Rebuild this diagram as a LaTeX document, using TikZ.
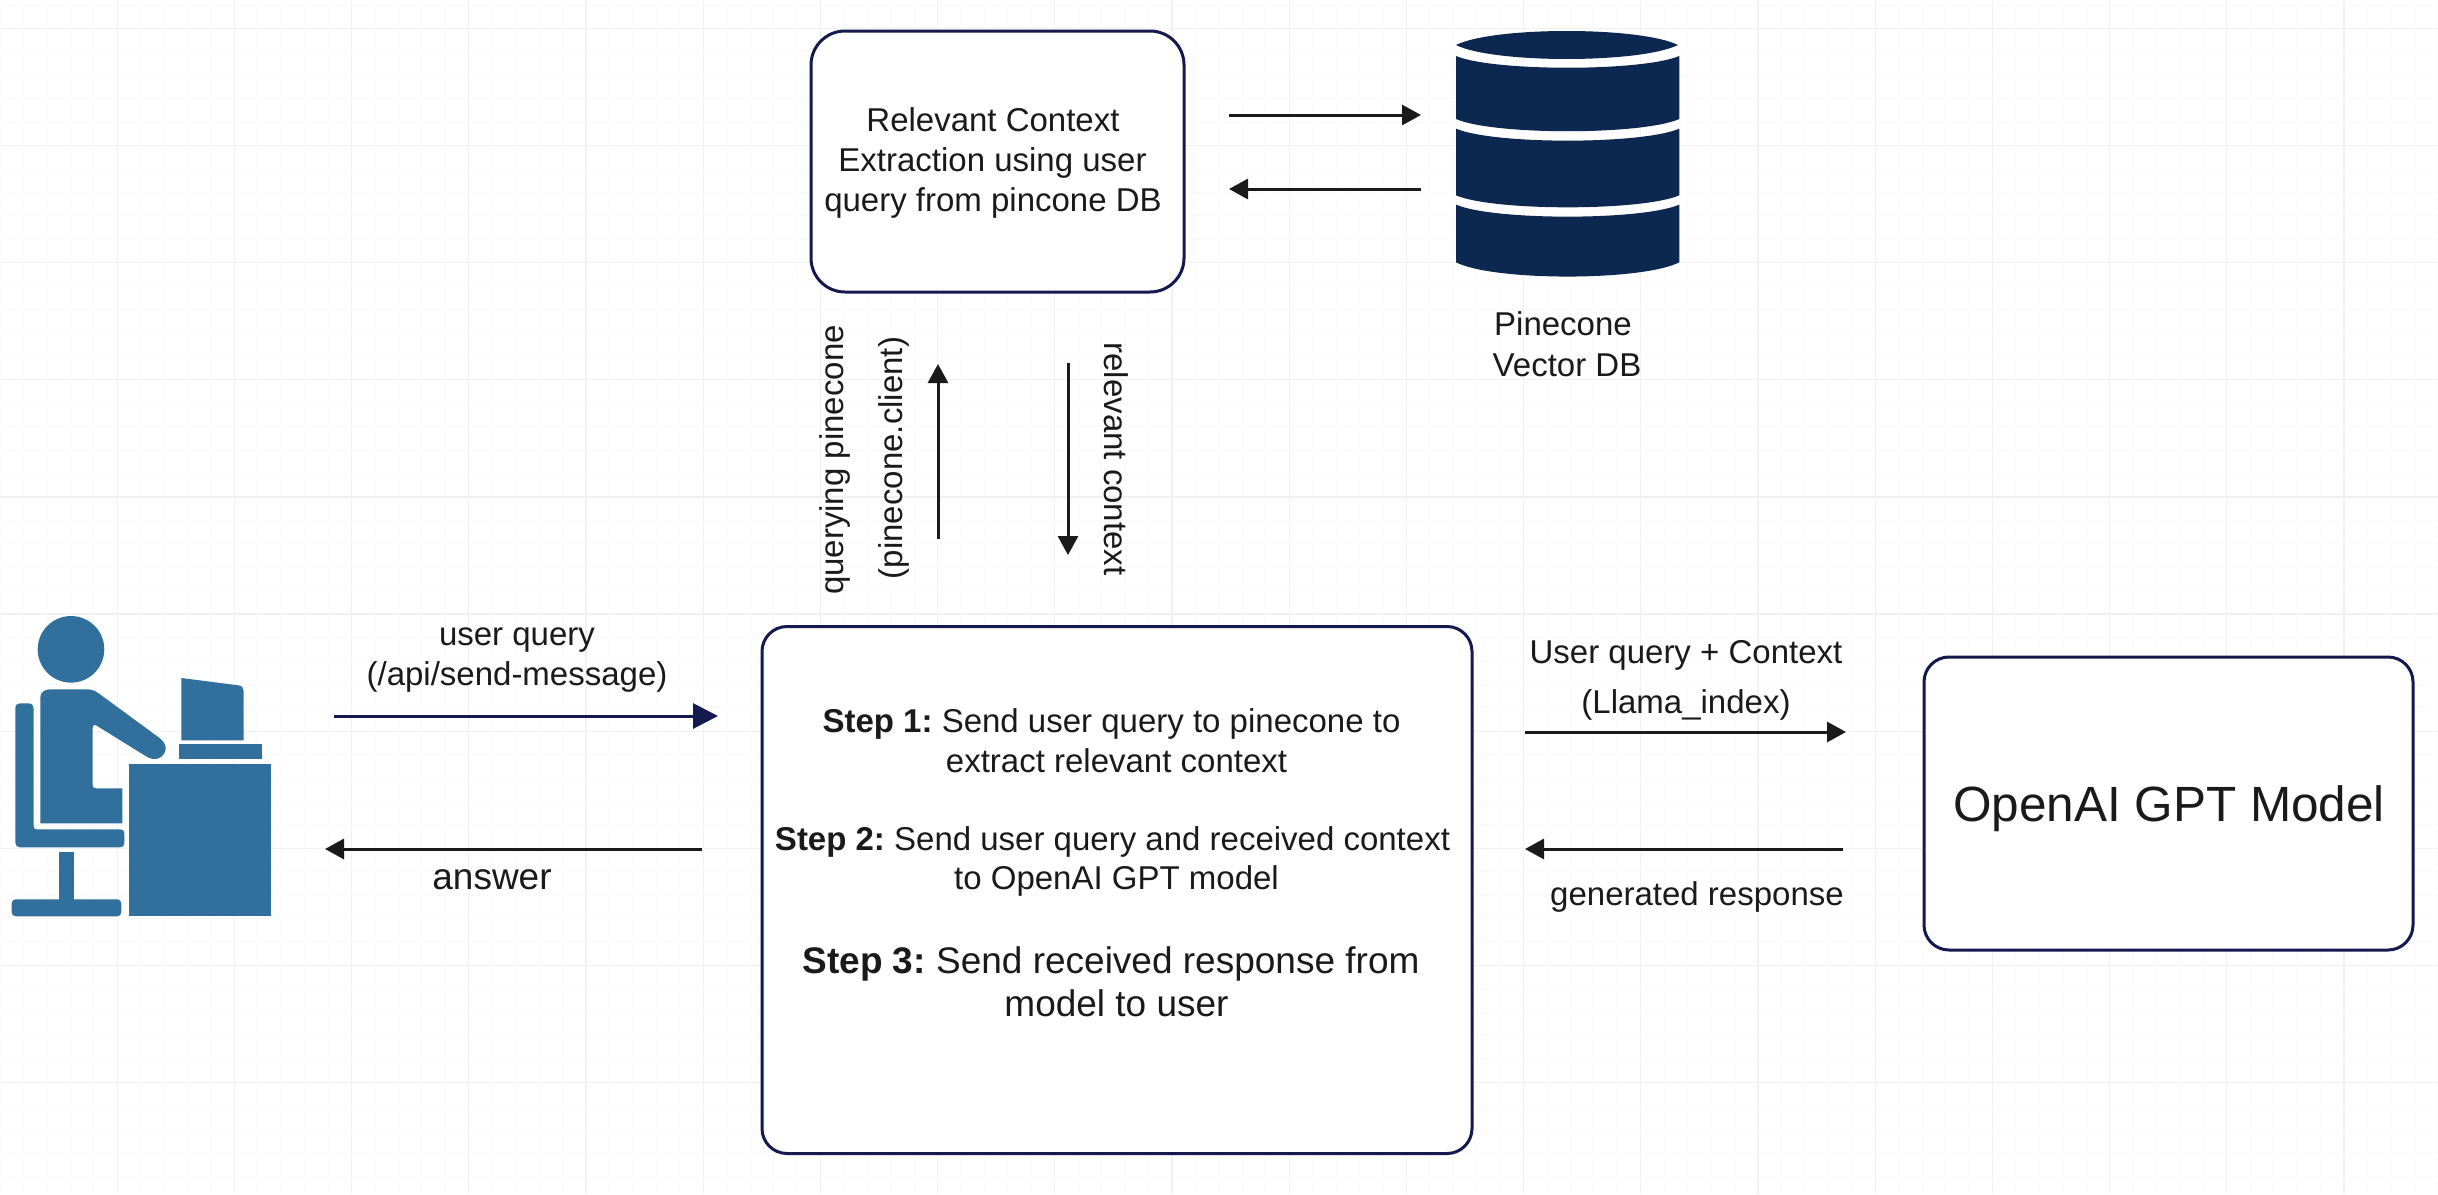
\documentclass[tikz,border=0pt]{standalone}
\usepackage{fontspec}
\setmainfont{Liberation Sans}
\usetikzlibrary{arrows.meta}
\definecolor{navy}{HTML}{14194E}
\definecolor{ink}{HTML}{1A1A1A}
\definecolor{iconblue}{HTML}{31709C}
\definecolor{dbblue}{HTML}{0C2850}
\definecolor{gridmajor}{HTML}{F1F1F1}
\definecolor{gridminor}{HTML}{FAFAFA}
\frenchspacing
\tikzset{
  box/.style={draw=navy,line width=3pt,fill=white,rounded corners=#1,inner sep=0pt,align=center,text=ink},
  lab/.style={text=ink,inner sep=0pt,anchor=base,align=center,font=\fontsize{33}{40}\selectfont},
  conn/.style={draw=ink,line width=3pt,-{Triangle[length=19pt,width=20pt]}},
  connnavy/.style={draw=navy,line width=3pt,-{Triangle[length=25pt,width=25pt]}},
}
\begin{document}
\begin{tikzpicture}[x=1pt,y=-1pt]
\useasboundingbox (0,0) rectangle (2438,1194);
\fill[white] (0,0) rectangle (2438,1194);
% grid
\foreach \k in {0,...,104}{
  \draw[gridminor,line width=1pt] ({\k*23.44},0) -- ({\k*23.44},1194);
}
\foreach \k in {0,...,51}{
  \draw[gridminor,line width=1pt] (0,{5.1+\k*23.42}) -- (2438,{5.1+\k*23.42});
}
\foreach \k in {1,...,20}{
  \draw[gridmajor,line width=1.2pt] ({\k*117.2},0) -- ({\k*117.2},1194);
}
\foreach \k in {0,...,10}{
  \draw[gridmajor,line width=1.2pt] (0,{28.5+\k*117.1}) -- (2438,{28.5+\k*117.1});
}
% boxes
\node[box=34pt,minimum width=373pt,minimum height=261pt] (ctx) at (997.5,161.5) {};
\node[box=25pt,minimum width=710pt,minimum height=527pt] (main) at (1117,890) {};
\node[box=25pt,minimum width=489pt,minimum height=293pt] (model) at (2168.5,803.5) {};
% box texts
\node[lab] (ctxa) at (993,131) {Relevant Context};
\node[lab] (ctxb) at (992.5,171) {Extraction using user};
\node[lab] (ctxc) at (993,211) {query from pincone DB};
\node[lab] (s1a) at (1111.5,732) {\textbf{Step 1:} Send user query to pinecone to};
\node[lab] (s1b) at (1116.5,772) {extract relevant context};
\node[lab] (s2a) at (1112.5,850) {\textbf{Step 2:} Send user query and received context};
\node[lab] (s2b) at (1116.5,889) {to OpenAI GPT model};
\node[lab,font=\fontsize{37}{44}\selectfont] (s3a) at (1111,973) {\textbf{Step 3:} Send received response from};
\node[lab,font=\fontsize{37}{44}\selectfont] (s3b) at (1116.5,1016) {model to user};
\node[lab,font=\fontsize{49.5}{58}\selectfont] (mt) at (2169,821) {OpenAI GPT Model};
% labels
\node[lab] (uq1) at (517,645) {user query};
\node[lab] (uq2) at (517,685) {(/api/send-message)};
\node[lab,font=\fontsize{37}{44}\selectfont] (ans) at (492,889) {answer};
\node[lab] (uc1) at (1686,663) {User query + Context};
\node[lab] (uc2) at (1686,713) {(Llama\_index)};
\node[lab] (gr) at (1697,905) {generated response};
\node[lab,rotate=90] (qp1) at (843,460) {querying pinecone};
\node[lab,rotate=90] (qp2) at (902,458) {(pinecone.client)};
\node[lab,rotate=-90] (rc) at (1104,459) {relevant context};
\node[lab] (pv1) at (1563,335) {Pinecone};
\node[lab] (pv2) at (1567,376) {Vector DB};
% connector ends
\coordinate (a1s) at (334,716); \coordinate (a1e) at (718,716);
\coordinate (a2s) at (702,849); \coordinate (a2e) at (325,849);
\coordinate (a3s) at (1525,732); \coordinate (a3e) at (1846,732);
\coordinate (a4s) at (1843,849); \coordinate (a4e) at (1525,849);
\coordinate (a5s) at (938,539); \coordinate (a5e) at (938,364);
\coordinate (a6s) at (1068,363); \coordinate (a6e) at (1068,555);
\coordinate (a7s) at (1229,115); \coordinate (a7e) at (1421,115);
\coordinate (a8s) at (1421,189); \coordinate (a8e) at (1229,189);
\draw[connnavy] (a1s) -- (a1e);
\draw[conn] (a2s) -- (a2e);
\draw[conn] (a3s) -- (a3e);
\draw[conn] (a4s) -- (a4e);
\draw[conn] (a5s) -- (a5e);
\draw[conn] (a6s) -- (a6e);
\draw[conn] (a7s) -- (a7e);
\draw[conn] (a8s) -- (a8e);
% user icon
\begin{scope}[shift={(0,580)},x=0.3333pt,y=-0.3333pt,fill=iconblue]
  \fill (213,208) circle[radius=33.3pt];
  \fill (121,730) -- (121,352) .. controls (121,338) and (133,328) .. (150,328)
    -- (262,328) .. controls (278,328) and (288,334) .. (300,343)
    -- (480,475) .. controls (497,488) and (502,505) .. (493,520)
    .. controls (484,537) and (462,543) .. (440,530)
    -- (290,437) .. controls (283,432) and (278,436) .. (278,445)
    -- (278,615) .. controls (278,622) and (281,625) .. (288,625)
    -- (367,625) -- (367,730) -- cycle;
  \fill (46,385) .. controls (46,375) and (52,370) .. (60,370) -- (85,370)
    .. controls (95,370) and (101,376) .. (101,385) -- (101,738)
    .. controls (101,745) and (103,748) .. (110,748) -- (360,748)
    .. controls (369,748) and (373,752) .. (373,760) -- (373,790)
    .. controls (373,798) and (369,802) .. (360,802) -- (60,802)
    .. controls (52,802) and (46,797) .. (46,788) -- cycle;
  \fill (176,817) rectangle (223,965);
  \fill[rounded corners=4pt] (35,958) rectangle (364,1009);
  \fill (386,553) rectangle (814,1009);
  \fill (538,493) rectangle (785,538);
  \fill (544,294) -- (715,316) .. controls (725,317) and (731,323) .. (731,332) -- (731,481) -- (544,481) -- cycle;
\end{scope}
% database icon
\begin{scope}[shift={(1420,10)},x=0.3333pt,y=-0.3333pt,fill=dbblue]
  \fill (108,105) .. controls (220,49) and (660,49) .. (774,105)
    .. controls (660,161) and (220,161) .. (108,105) -- cycle;
  \fill (108,138) .. controls (220,185) and (666,185) .. (778,138) -- (778,327)
    .. controls (666,376) and (220,376) .. (108,327) -- cycle;
  \fill (108,356) .. controls (220,404) and (666,404) .. (778,356) -- (778,556)
    .. controls (666,604) and (220,604) .. (108,556) -- cycle;
  \fill (108,584) .. controls (220,632) and (666,632) .. (778,584) -- (778,757)
    .. controls (666,814) and (220,814) .. (108,757) -- cycle;
\end{scope}
\end{tikzpicture}
\end{document}
